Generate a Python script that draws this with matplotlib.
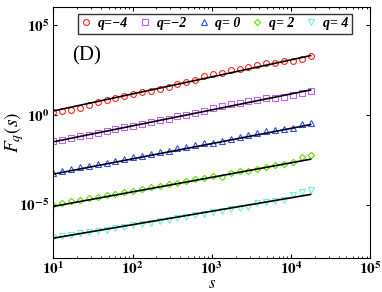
import numpy as np
import matplotlib
matplotlib.use("Agg")
import matplotlib.pyplot as plt
from matplotlib.ticker import FuncFormatter, NullLocator


# window sizes s (log spaced)
s_values = [10, 12.9, 16.8, 21.7, 28.1, 36.3, 47.0, 60.8, 78.7, 101.9,
            131.8, 170.6, 220.8, 285.8, 369.8, 478.6, 619.4, 801.6, 1037, 1343,
            1738, 2249, 2911, 3767, 4875, 6310, 8166, 10568, 13677, 17701]

# log10 F_q(s)
logF_qm4 = [0.15, 0.22, 0.30, 0.41, 0.56, 0.72, 0.84, 0.96, 1.08, 1.18,
            1.26, 1.36, 1.46, 1.58, 1.70, 1.84, 1.96, 2.15, 2.26, 2.32,
            2.51, 2.54, 2.66, 2.79, 2.87, 2.88, 2.98, 3.02, 3.09, 3.26]
logF_qm2 = [-1.46, -1.38, -1.30, -1.20, -1.10, -1.00, -0.90, -0.81, -0.70, -0.60,
            -0.50, -0.40, -0.30, -0.20, -0.08, 0.02, 0.12, 0.24, 0.38, 0.47,
            0.62, 0.66, 0.77, 0.84, 0.92, 0.96, 1.02, 1.09, 1.22, 1.35]
logF_q0 = [-3.22, -3.10, -3.04, -2.93, -2.86, -2.74, -2.66, -2.55, -2.47, -2.36,
           -2.28, -2.18, -2.06, -1.99, -1.87, -1.79, -1.68, -1.59, -1.54, -1.44,
           -1.35, -1.22, -1.12, -0.99, -0.90, -0.84, -0.79, -0.75, -0.51, -0.43]
logF_q2 = [-5.00, -4.92, -4.82, -4.75, -4.65, -4.57, -4.48, -4.40, -4.30, -4.22,
           -4.13, -4.04, -3.95, -3.86, -3.77, -3.69, -3.60, -3.54, -3.43, -3.46,
           -3.24, -3.15, -3.13, -2.99, -2.90, -2.81, -2.75, -2.62, -2.34, -2.21]
logF_q4 = [-6.80, -6.74, -6.67, -6.60, -6.53, -6.46, -6.39, -6.32, -6.25, -6.16,
           -6.08, -6.00, -5.92, -5.84, -5.76, -5.68, -5.60, -5.52, -5.43, -5.33,
           -5.26, -5.19, -5.11, -4.93, -4.86, -4.80, -4.74, -4.49, -4.27, -4.21]

# fitted lines: log10 F at s=10 and slope h(q)
fit_start = [0.22, -1.50, -3.30, -5.10, -6.87]
fit_slope = [0.95, 0.89, 0.85, 0.81, 0.75]

labels = ["q=−4", "q=−2", "q= 0", "q= 2", "q= 4"]
markers = ["o", "s", "^", "D", "v"]
colors = ["#ff2020", "#c060f0", "#3050ff", "#60e000", "#70f0d8"]

plt.rcParams["font.family"] = ["Liberation Serif", "DejaVu Serif"]
plt.rcParams["mathtext.fontset"] = "stix"

fig = plt.figure(figsize=(3.82, 2.92), dpi=100)
ax = fig.add_axes([0.1395, 0.115, 0.8295, 0.86])

series = [logF_qm4, logF_qm2, logF_q0, logF_q2, logF_q4]
s_arr = np.array(s_values)
for logF, a0, h, m, c, lab in zip(series, fit_start, fit_slope, markers, colors, labels):
    ms = 3.2 if m == "D" else 4.2
    ax.plot(s_arr, 10 ** np.array(logF), linestyle="none", marker=m,
            markersize=ms, markerfacecolor="none", markeredgecolor=c,
            markeredgewidth=0.8, label=lab)
    fit = 10 ** (a0 + h * (np.log10(s_arr) - 1))
    ax.plot(s_arr, fit, color="black", linewidth=1.2)

ax.set_xscale("log")
ax.set_yscale("log")
ax.set_xlim(10, 1e5)
ax.set_ylim(1e-8, 1e6)
ax.set_xticks([1e1, 1e2, 1e3, 1e4, 1e5])
ax.set_yticks([1e-5, 1e0, 1e5])
ax.yaxis.set_minor_locator(NullLocator())

bold_pow = FuncFormatter(lambda v, pos: r"$\mathbf{10^{%d}}$" % round(np.log10(v)))
ax.xaxis.set_major_formatter(bold_pow)
ax.yaxis.set_major_formatter(bold_pow)

ax.tick_params(which="both", direction="in", top=True, right=True)
ax.tick_params(which="major", length=3, labelsize=11, pad=3)
ax.tick_params(axis="x", which="major", pad=1.5)
ax.tick_params(which="minor", length=1.5)

ax.set_xlabel(r"$s$", fontsize=12, labelpad=-1)
ax.set_ylabel(r"$F_q(s)$", fontsize=14)
ax.yaxis.set_label_coords(-0.085, 0.5)

ax.text(0.06, 0.79, "(D)", transform=ax.transAxes, fontsize=15)

leg = ax.legend(loc="upper center", bbox_to_anchor=(0.51, 0.985), ncol=5,
                frameon=True, fancybox=False, edgecolor="black",
                handlelength=0.7, handletextpad=0.5, columnspacing=0.85,
                borderpad=0.25, borderaxespad=0.2,
                prop={"size": 10, "weight": "bold", "style": "italic"})
leg.get_frame().set_linewidth(1.0)

fig.savefig("out.png", dpi=100)
